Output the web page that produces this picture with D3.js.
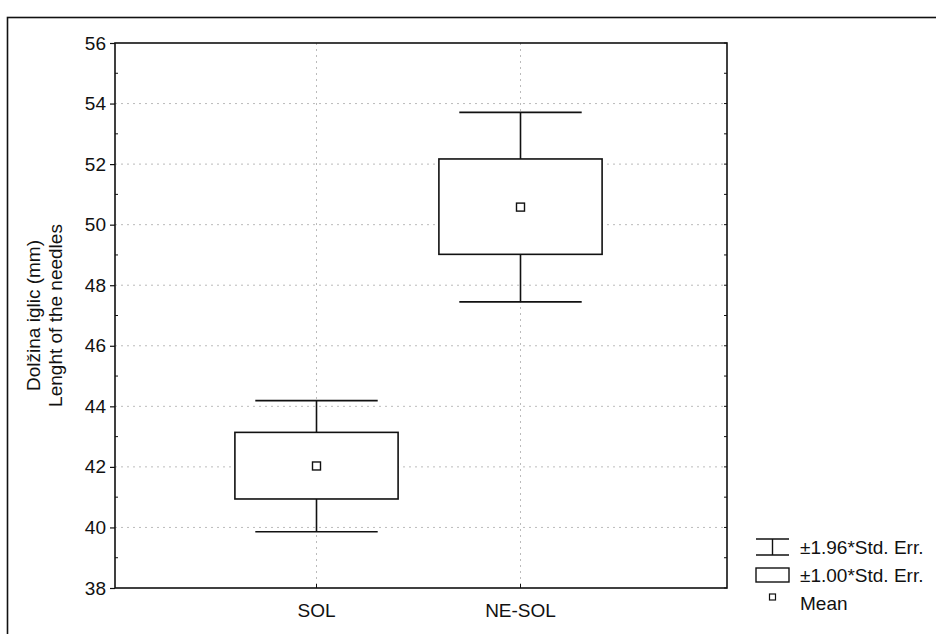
<!DOCTYPE html>
<html>
<head>
<meta charset="utf-8">
<script src="https://cdn.jsdelivr.net/npm/d3@7"></script>
<style>
  html, body { margin: 0; padding: 0; background: #fff; }
  svg { display: block; }
  text { font-family: "Liberation Sans", Arial, sans-serif; fill: #111; }
</style>
</head>
<body>
<div id="chart"></div>
<script>
// ---- data ----
const categories = ["SOL", "NE-SOL"];
const means      = [42.03, 50.58];
const boxLow     = [40.94, 49.02];   // mean - 1.00*SE
const boxHigh    = [43.14, 52.17];   // mean + 1.00*SE
const whiskLow   = [39.86, 47.45];   // mean - 1.96*SE
const whiskHigh  = [44.19, 53.71];   // mean + 1.96*SE
const yTicks     = [38, 40, 42, 44, 46, 48, 50, 52, 54, 56];
const yMinor     = [39, 41, 43, 45, 47, 49, 51, 53, 55];
const yTitle     = ["Dolžina iglic (mm)", "Lenght of the needles"];
const legendLabels = ["±1.96*Std. Err.", "±1.00*Std. Err.", "Mean"];

(function () {
const W = 936, H = 634, FS = 19;
const svg = d3.select("#chart").append("svg").attr("width", W).attr("height", H);

// outer frame
svg.append("rect").attr("x", 7.5).attr("y", 17.5).attr("width", 940).attr("height", 640)
  .attr("fill", "none").attr("stroke", "#111").attr("stroke-width", 1.6);

const pL = 115, pR = 727, pT = 43, pB = 588;
const x = d3.scaleLinear().domain([0, categories.length + 1]).range([pL, pR]);
const y = d3.scaleLinear().domain([38, 56]).range([pB, pT]);
const xi = i => x(i + 1) - 2.5;

// gridlines
const grid = svg.append("g").attr("stroke", "#aaa").attr("stroke-width", 0.8).attr("stroke-dasharray", "2,4");
grid.selectAll("line.h").data(yTicks.filter(t => t > 38 && t < 56)).join("line")
  .attr("x1", pL).attr("x2", pR).attr("y1", d => y(d)).attr("y2", d => y(d));
grid.selectAll("line.v").data(categories).join("line")
  .attr("x1", (d, i) => xi(i)).attr("x2", (d, i) => xi(i)).attr("y1", pT).attr("y2", pB);

// axes
const yAxis = d3.axisLeft(y).tickValues(yTicks).tickSize(5).tickPadding(4).tickFormat(d3.format("d"));
const gy = svg.append("g").attr("transform", `translate(${pL},0)`).call(yAxis);
gy.select(".domain").remove();
gy.selectAll("line").attr("stroke", "#111").attr("stroke-width", 1.2);
gy.selectAll("text").attr("font-size", FS).attr("font-family", "Liberation Sans, Arial, sans-serif").attr("fill", "#111");

// minor ticks inside
const minor = svg.append("g").attr("stroke", "#111").attr("stroke-width", 1);
minor.selectAll("line.l").data(yMinor).join("line")
  .attr("x1", pL).attr("x2", pL + 3).attr("y1", d => y(d)).attr("y2", d => y(d));
minor.selectAll("line.r").data(yTicks.concat(yMinor)).join("line")
  .attr("x1", pR).attr("x2", pR - 3).attr("y1", d => y(d)).attr("y2", d => y(d));
minor.selectAll("line.b").data(categories).join("line")
  .attr("x1", (d, i) => xi(i)).attr("x2", (d, i) => xi(i)).attr("y1", pB).attr("y2", pB - 4);

// plot frame
svg.append("rect").attr("x", pL).attr("y", pT).attr("width", pR - pL).attr("height", pB - pT)
  .attr("fill", "none").attr("stroke", "#111").attr("stroke-width", 1.6);

// x labels
svg.append("g").selectAll("text").data(categories).join("text")
  .attr("x", (d, i) => xi(i)).attr("y", pB + 29).attr("text-anchor", "middle")
  .attr("font-size", FS).text(d => d);

// y title
const yt = svg.append("text").attr("transform", `translate(40,${(pT + pB) / 2}) rotate(-90)`)
  .attr("text-anchor", "middle").attr("font-size", FS);
yt.selectAll("tspan").data(yTitle).join("tspan")
  .attr("x", 0).attr("dy", (d, i) => i === 0 ? 0 : 22).text(d => d);

// boxes
const boxW = x(0.8) - x(0), whW = x(0.6) - x(0);
const g = svg.append("g").attr("stroke", "#111").attr("stroke-width", 1.6).attr("fill", "none");
categories.forEach((c, i) => {
  const cx = xi(i);
  g.append("line").attr("x1", cx).attr("x2", cx).attr("y1", y(whiskHigh[i])).attr("y2", y(boxHigh[i]));
  g.append("line").attr("x1", cx).attr("x2", cx).attr("y1", y(boxLow[i])).attr("y2", y(whiskLow[i]));
  g.append("line").attr("x1", cx - whW / 2).attr("x2", cx + whW / 2).attr("y1", y(whiskHigh[i])).attr("y2", y(whiskHigh[i]));
  g.append("line").attr("x1", cx - whW / 2).attr("x2", cx + whW / 2).attr("y1", y(whiskLow[i])).attr("y2", y(whiskLow[i]));
  g.append("rect").attr("x", cx - boxW / 2).attr("y", y(boxHigh[i])).attr("width", boxW)
    .attr("height", y(boxLow[i]) - y(boxHigh[i])).attr("fill", "#fff");
  g.append("rect").attr("x", cx - 4).attr("y", y(means[i]) - 4).attr("width", 8).attr("height", 8)
    .attr("fill", "#fff").attr("stroke-width", 1.4);
});

// legend
const lg = svg.append("g");
const lx = 756, lw = 33, lcx = lx + lw / 2;
lg.append("line").attr("x1", lx).attr("x2", lx + lw).attr("y1", 539).attr("y2", 539).attr("stroke", "#111").attr("stroke-width", 1.4);
lg.append("line").attr("x1", lx).attr("x2", lx + lw).attr("y1", 555).attr("y2", 555).attr("stroke", "#111").attr("stroke-width", 1.4);
lg.append("line").attr("x1", lcx).attr("x2", lcx).attr("y1", 539).attr("y2", 555).attr("stroke", "#111").attr("stroke-width", 1.4);
lg.append("rect").attr("x", lx).attr("y", 568).attr("width", lw).attr("height", 14).attr("fill", "#fff").attr("stroke", "#111").attr("stroke-width", 1.4);
lg.append("rect").attr("x", lcx - 3).attr("y", 594).attr("width", 6).attr("height", 6).attr("fill", "#fff").attr("stroke", "#111").attr("stroke-width", 1.2);
lg.selectAll("text").data(legendLabels).join("text")
  .attr("x", 800).attr("y", (d, i) => [554, 582, 610][i]).attr("font-size", FS).text(d => d);
})();
</script>
</body>
</html>
